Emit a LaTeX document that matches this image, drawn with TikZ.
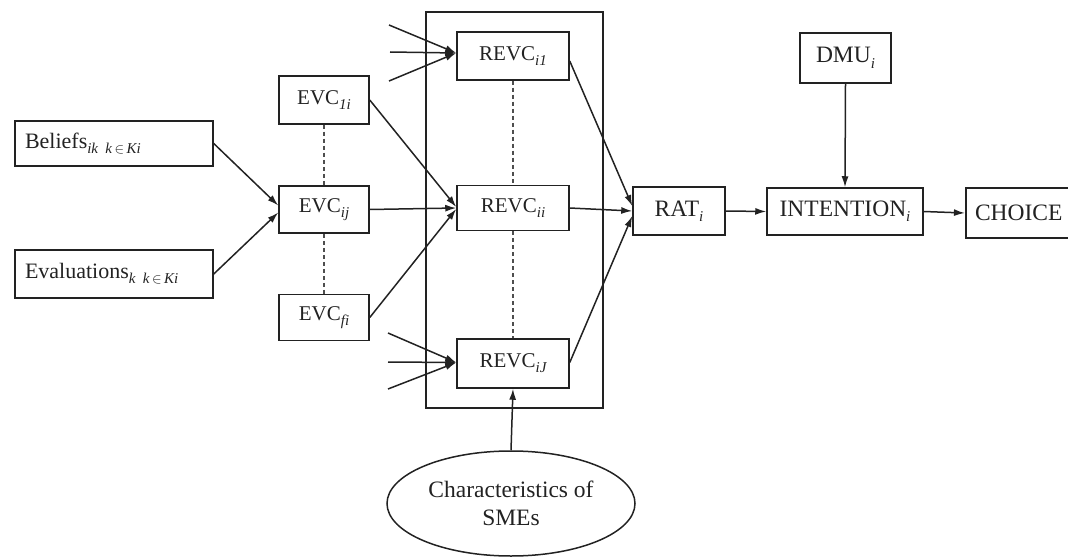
\documentclass[tikz,border=0pt]{standalone}
\usepackage{fontspec}
\setmainfont{Liberation Serif}
\usetikzlibrary{arrows.meta,shapes.geometric,calc}
\definecolor{ink}{HTML}{222222}
% italic subscript set in text
\newcommand{\subtxt}[1]{\raisebox{-0.5ex}{\fontsize{15}{15}\selectfont\itshape #1}}
\begin{document}
\begin{tikzpicture}[x=1pt,y=-1pt,
  box/.style={draw=ink,line width=1.5pt,inner sep=0pt,text=ink,
    font=\fontsize{21}{24}\selectfont},
  bigtext/.style={font=\fontsize{23.5}{28}\selectfont},
  link/.style={draw=ink,line width=1.5pt,-{Latex[length=11pt,width=7pt]}},
  dots/.style={draw=ink!80,line width=1.6pt,dash pattern=on 4pt off 3pt}]
\useasboundingbox (0,0) rectangle (1068,559);
\clip (0,0) rectangle (1068,559);

% outer frame around the REVC block
\node[draw=ink,line width=1.5pt,minimum width=177pt,minimum height=396pt,inner sep=0pt] (frame) at (514.5,210) {};

% inputs
\node[box,font=\fontsize{22}{24}\selectfont,minimum width=198pt,minimum height=45pt,text width=178pt,align=left] (bel) at (114,143.5)
  {Beliefs\subtxt{ik k\,$\in$\,Ki}};
\node[box,font=\fontsize{22}{24}\selectfont,minimum width=198pt,minimum height=48pt,text width=178pt,align=left] (eva) at (114,274)
  {Evaluations\subtxt{k k\,$\in$\,Ki}};

% EVC column
\node[box,minimum width=90pt,minimum height=48pt] (evc1) at (324,100) {EVC\subtxt{1i}};
\node[box,minimum width=90pt,minimum height=47pt] (evcij) at (324,209.5) {EVC\subtxt{ij}};
\node[box,minimum width=90pt,minimum height=46pt] (evcf) at (324,317.5) {EVC\subtxt{fi}};

% REVC column
\node[box,minimum width=112pt,minimum height=48pt] (revc1) at (513,56) {REVC\subtxt{i1}};
\node[box,minimum width=112pt,minimum height=45pt] (revcii) at (513,208) {REVC\subtxt{ii}};
\node[box,minimum width=112pt,minimum height=49pt] (revcJ) at (513,363.5) {REVC\subtxt{iJ}};

% right part
\node[box,bigtext,minimum width=92pt,minimum height=48pt] (rat) at (679,211) {RAT\subtxt{i}};
\node[box,bigtext,minimum width=156pt,minimum height=47pt] (intent) at (845,211.5) {INTENTION\subtxt{i}};
\node[box,bigtext,minimum width=91pt,minimum height=50pt] (dmu) at (845.5,58) {DMU\subtxt{i}};
\node[box,bigtext,line width=2.2pt,minimum width=130pt,minimum height=50pt,text width=112pt,align=left] (choice) at (1031,213) {CHOICE};

% characteristics
\node[ellipse,draw=ink,line width=1.5pt,minimum width=248pt,minimum height=105pt,inner sep=0pt,
  align=center,text=ink,bigtext] (sme) at (511,503.5)
  {Characteristics of\\SMEs};

% free ends of the unlabeled inputs
\coordinate (a1) at (389,25);
\coordinate (a2) at (390,52);
\coordinate (a3) at (389,81);
\coordinate (b1) at (388,333);
\coordinate (b2) at (388,362);
\coordinate (b3) at (388,389);

% dotted continuations
\draw[dots] (evc1.south) -- (evcij.north);
\draw[dots] (evcij.south) -- (evcf.north);
\draw[dots] (revc1.south) -- (revcii.north);
\draw[dots] (revcii.south) -- (revcJ.north);

% connectors
\draw[link] (bel.east) -- ($(evcij.west)+(0,-4)$);
\draw[link] (eva.east) -- ($(evcij.west)+(0,3)$);

\draw[link] (evc1.east) -- ($(revcii.west)+(0,-1)$);
\draw[link] (evcij.east) -- (revcii.west);
\draw[link] (evcf.east) -- ($(revcii.west)+(0,1)$);

\foreach \p in {a1,a2,a3} \draw[link] (\p) -- ($(revc1.west)+(0,-3)$);
\foreach \p in {b1,b2,b3} \draw[link] (\p) -- ($(revcJ.west)+(0,-1)$);

\draw[link] ($(revc1.east)+(0,5)$) -- ($(rat.west)+(0,-5)$);
\draw[link] (revcii.east) -- (rat.west);
\draw[link] ($(revcJ.east)+(0,-1)$) -- ($(rat.west)+(0,5)$);

\draw[link] (sme.north) -- (revcJ.south);

\draw[link] (rat.east) -- (intent.west);
\draw[link] (dmu.south) -- (intent.north);
\draw[link] (intent.east) -- (choice.west);
\end{tikzpicture}
\end{document}
